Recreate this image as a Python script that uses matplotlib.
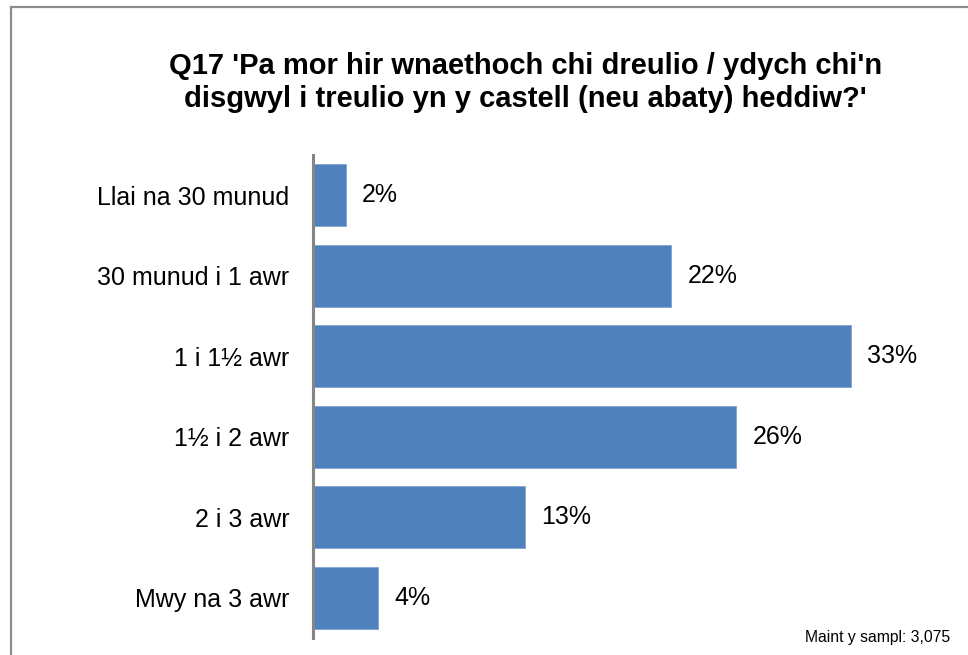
import matplotlib.pyplot as plt
from matplotlib.patches import Rectangle

plt.rcParams['font.family'] = ['Liberation Sans', 'DejaVu Sans']

categories = ["Llai na 30 munud", "30 munud i 1 awr", "1 i 1½ awr",
              "1½ i 2 awr", "2 i 3 awr", "Mwy na 3 awr"]
values = [2, 22, 33, 26, 13, 4]
title = "Q17 'Pa mor hir wnaethoch chi dreulio / ydych chi'n\ndisgwyl i treulio yn y castell (neu abaty) heddiw?'"
sample_note = "Maint y sampl: 3,075"

bar_color = "#4F81BD"

fig = plt.figure(figsize=(9.68, 6.55), dpi=100)
ax = fig.add_axes([0.3233, 0.026, 0.589, 0.7374])

pos = list(range(len(categories)))
ax.barh(pos, values, height=0.77, color=bar_color, edgecolor="#7FA3D0", linewidth=0.6)
ax.set_ylim(len(categories) - 0.5, -0.5)
ax.set_xlim(0, 35)
ax.set_yticks(pos)
ax.set_yticklabels(categories, fontsize=18)
ax.set_xticks([])
ax.tick_params(axis='y', length=0, pad=17)

for p, v in zip(pos, values):
    ax.annotate(f"{v}%", (v, p), xytext=(12, 0), textcoords="offset points",
                va="center", ha="left", fontsize=18)

for side in ["top", "right", "bottom"]:
    ax.spines[side].set_visible(False)
ax.spines["left"].set_color("#868686")
ax.spines["left"].set_linewidth(2.2)

fig.text(0.543, 0.874, title, ha="center", va="center", fontsize=21,
         fontweight="bold", linespacing=1.2)
fig.text(0.982, 0.027, sample_note, ha="right", va="center", fontsize=11.3)

# chart border
fig.patches.append(Rectangle((11 / 968, -0.05), 1.0, 1 - 7 / 655 + 0.05,
                             transform=fig.transFigure, fill=False,
                             edgecolor="#8c8c8c", linewidth=1.6))

fig.savefig("out.png", dpi=100)
